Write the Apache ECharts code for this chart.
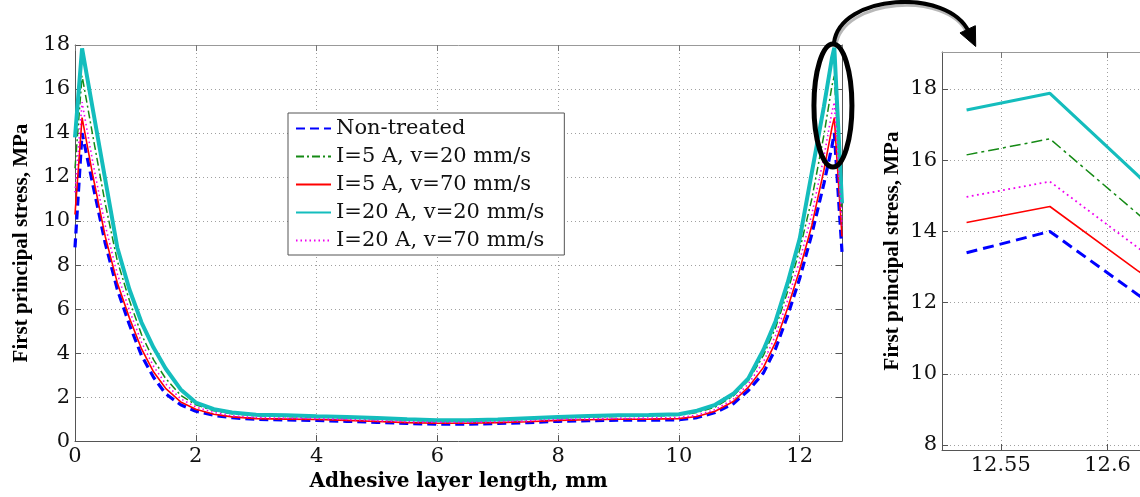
<!DOCTYPE html>
<html><head><meta charset="utf-8">
<script src="https://cdn.jsdelivr.net/npm/echarts@6/dist/echarts.min.js"></script>
<style>html,body{margin:0;padding:0;background:#fff}#c{width:1140px;height:497px}</style>
</head><body><div id="c"></div>
<script>
// ---------- data ----------
const seriesNames = ['Non-treated', 'I=5 A, v=20 mm/s', 'I=5 A, v=70 mm/s', 'I=20 A, v=20 mm/s', 'I=20 A, v=70 mm/s'];
const xLength = [0, 0.117, 0.3, 0.5, 0.7, 0.9, 1.1, 1.3, 1.5, 1.75, 2.0, 2.3, 2.6, 3.0, 3.5, 4.0, 4.5, 5.0, 5.5, 6.0, 6.5, 7.0, 7.5, 8.0, 8.5, 9.0, 9.5, 10.0, 10.3, 10.6, 10.9, 11.15, 11.4, 11.6, 11.8, 12.0, 12.2, 12.4, 12.534, 12.573, 12.614, 12.7];
const nonTreated = [8.8, 14.0, 11.6, 9.0, 6.9, 5.3, 3.9, 2.9, 2.15, 1.65, 1.36, 1.17, 1.06, 0.99, 0.96, 0.94, 0.9, 0.85, 0.8, 0.77, 0.77, 0.8, 0.84, 0.9, 0.93, 0.95, 0.95, 0.97, 1.07, 1.3, 1.7, 2.3, 3.1, 4.2, 5.7, 7.4, 9.4, 11.7, 13.4, 14.0, 12.23, 8.6];
const i5v20 = [12.4, 16.6, 13.8, 10.8, 8.2, 6.4, 4.85, 3.7, 2.85, 2.08, 1.65, 1.38, 1.24, 1.15, 1.11, 1.09, 1.05, 1.0, 0.95, 0.91, 0.91, 0.94, 0.99, 1.05, 1.09, 1.12, 1.14, 1.17, 1.3, 1.55, 2.05, 2.75, 3.9, 5.15, 6.8, 8.7, 11.0, 13.9, 16.15, 16.6, 14.5, 10.2];
const i5v70 = [10.3, 14.7, 12.0, 9.3, 7.2, 5.6, 4.2, 3.15, 2.4, 1.78, 1.45, 1.22, 1.1, 1.02, 1.0, 0.98, 0.94, 0.89, 0.84, 0.81, 0.81, 0.84, 0.88, 0.94, 0.97, 0.99, 1.0, 1.02, 1.12, 1.36, 1.8, 2.45, 3.35, 4.5, 6.05, 7.8, 9.8, 12.3, 14.25, 14.7, 12.9, 9.3];
const i20v20 = [13.8, 17.85, 15.0, 11.9, 8.8, 6.9, 5.4, 4.25, 3.3, 2.35, 1.75, 1.45, 1.3, 1.2, 1.17, 1.13, 1.1, 1.05, 0.99, 0.95, 0.95, 0.98, 1.04, 1.1, 1.14, 1.17, 1.19, 1.22, 1.38, 1.65, 2.15, 2.85, 4.15, 5.45, 7.2, 9.2, 12.2, 15.2, 17.41, 17.88, 15.58, 10.8];
const i20v70 = [11.3, 15.4, 12.6, 9.8, 7.6, 5.95, 4.5, 3.4, 2.6, 1.92, 1.55, 1.3, 1.15, 1.07, 1.04, 1.02, 0.98, 0.93, 0.88, 0.85, 0.85, 0.88, 0.92, 0.98, 1.01, 1.03, 1.05, 1.07, 1.18, 1.43, 1.9, 2.6, 3.6, 4.8, 6.4, 8.2, 10.3, 12.9, 14.97, 15.4, 13.55, 9.8];
const insetXTicks = [12.55, 12.6];
const insetYTicks = [8, 10, 12, 14, 16, 18];
const insetFrom = 12.53;

// ---------- styles ----------
const allValues = [nonTreated, i5v20, i5v70, i20v20, i20v70];
const styles = [
  {color: '#0000ff', width: 3.2, type: [9, 5]},
  {color: '#158a15', width: 1.5, type: [8, 3, 2, 3]},
  {color: '#ff0000', width: 1.6, type: 'solid'},
  {color: '#14bdbd', width: 4, type: 'solid'},
  {color: '#f000f0', width: 1.6, type: [1.5, 3]}
];
const insetStyles = [
  {color: '#0000ff', width: 3, type: [11, 6]},
  {color: '#158a15', width: 1.5, type: [11, 4, 3, 4]},
  {color: '#ff0000', width: 1.6, type: 'solid'},
  {color: '#14bdbd', width: 3.2, type: 'solid'},
  {color: '#f000f0', width: 1.8, type: [1.8, 3.5]}
];
const serif = 'DejaVu Serif';
const titleFont = 'Liberation Serif';
const gridLine = {show: true, lineStyle: {color: '#a0a0a0', type: [1, 3], width: 1}};

const series = [];
allValues.forEach((vals, i) => {
  const pts = xLength.map((x, k) => [x, vals[k]]);
  series.push({
    name: seriesNames[i], type: 'line', xAxisIndex: 0, yAxisIndex: 0,
    data: pts, symbol: 'none', smooth: false, animation: false,
    color: styles[i].color,
    lineStyle: {color: styles[i].color, width: styles[i].width, type: styles[i].type}
  });
});
allValues.forEach((vals, i) => {
  const pts = xLength.map((x, k) => [x, vals[k]]).filter(p => p[0] >= insetFrom);
  series.push({
    name: seriesNames[i], type: 'line', xAxisIndex: 2, yAxisIndex: 2,
    data: pts, symbol: 'none', animation: false, clip: true,
    color: insetStyles[i].color,
    lineStyle: {color: insetStyles[i].color, width: insetStyles[i].width, type: insetStyles[i].type}
  });
});

const insetXMin = 12.5225, insetXMax = 12.5225 + 202 / 2180;

const option = {
  animation: false,
  backgroundColor: '#fff',
  textStyle: {fontFamily: serif},
  grid: [
    {left: 75, right: 298, top: 45, bottom: 49},
    {left: 942, right: -4, top: 52, bottom: 47}
  ],
  legend: {
    data: seriesNames, orient: 'vertical', left: 288, top: 113,
    backgroundColor: '#fff', borderColor: '#555', borderWidth: 1,
    padding: [5, 20, 4, 7], itemWidth: 35, itemHeight: 14, itemGap: 7,
    itemStyle: {opacity: 0},
    textStyle: {fontFamily: serif, fontSize: 21, color: '#111', lineHeight: 20}
  },
  xAxis: [
    {type: 'value', gridIndex: 0, min: 0, max: 12.7, interval: 2, position: 'bottom',
     name: 'Adhesive layer length, mm', nameLocation: 'middle', nameGap: 26,
     nameTextStyle: {fontFamily: serif, fontWeight: 'bold', fontSize: 20, color: '#000'},
     axisLine: {onZero: false, lineStyle: {color: '#555', width: 1}},
     axisTick: {inside: true, length: 6, lineStyle: {color: '#555'}},
     axisLabel: {fontSize: 21, color: '#111', margin: 5, showMaxLabel: false, fontFamily: serif},
     splitLine: gridLine},
    {type: 'value', gridIndex: 0, min: 0, max: 12.7, interval: 2, position: 'top',
     axisLine: {onZero: false, lineStyle: {color: '#999', width: 1}},
     axisTick: {inside: true, length: 6, lineStyle: {color: '#777'}},
     axisLabel: {show: false}, splitLine: {show: false}},
    {type: 'value', gridIndex: 1, min: insetXMin, max: insetXMax, position: 'bottom',
     axisLine: {onZero: false, lineStyle: {color: '#555', width: 1}},
     axisTick: {inside: true, length: 6, customValues: insetXTicks, lineStyle: {color: '#555'}},
     axisLabel: {fontSize: 21, color: '#111', margin: 5, customValues: insetXTicks, fontFamily: serif,
                 formatter: v => String(v)},
     splitLine: gridLine},
    {type: 'value', gridIndex: 1, min: insetXMin, max: insetXMax, position: 'top',
     axisLine: {onZero: false, lineStyle: {color: '#999', width: 1}},
     axisTick: {inside: true, length: 6, customValues: insetXTicks, lineStyle: {color: '#777'}},
     axisLabel: {show: false}, splitLine: {show: false}}
  ],
  yAxis: [
    {type: 'value', gridIndex: 0, min: 0, max: 18, interval: 2, position: 'left',
     name: 'First principal stress, MPa', nameLocation: 'middle', nameGap: 42,
     nameTextStyle: {fontFamily: titleFont, fontWeight: 'bold', fontSize: 21, color: '#000'},
     axisLine: {show: true, onZero: false, lineStyle: {color: '#555', width: 1}},
     axisTick: {show: true, inside: true, length: 6, lineStyle: {color: '#555'}},
     axisLabel: {fontSize: 21, color: '#111', margin: 5, fontFamily: serif},
     splitLine: gridLine},
    {type: 'value', gridIndex: 0, min: 0, max: 18, interval: 2, position: 'right',
     axisLine: {show: true, onZero: false, lineStyle: {color: '#555', width: 1}},
     axisTick: {show: true, inside: true, length: 6, lineStyle: {color: '#555'}},
     axisLabel: {show: false}, splitLine: {show: false}},
    {type: 'value', gridIndex: 1, min: 7.86, max: 19.04, position: 'left',
     name: 'First principal stress, MPa', nameLocation: 'middle', nameGap: 39,
     nameTextStyle: {fontFamily: titleFont, fontWeight: 'bold', fontSize: 21, color: '#000'},
     axisLine: {show: true, onZero: false, lineStyle: {color: '#555', width: 1}},
     axisTick: {show: true, inside: true, length: 6, customValues: insetYTicks, lineStyle: {color: '#555'}},
     axisLabel: {fontSize: 21, color: '#111', margin: 5, customValues: insetYTicks, fontFamily: serif},
     splitLine: gridLine}
  ],
  series: series
};

const chart = echarts.init(document.getElementById('c'), null, {renderer: 'canvas'});
chart.setOption(option);

// ---------- annotation: ellipse around the right peak and curved arrow to the inset ----------
const c = chart.convertToPixel({xAxisIndex: 0, yAxisIndex: 0}, [12.55, 15.25]);
const rx = 19, ry = 61.5;
const p0 = [c[0] + 1, c[1] - ry - 1];
const p1 = [c[0] + 7, c[1] - ry - 50];
const p2 = [c[0] + 115, c[1] - ry - 57];
const p3 = [c[0] + 136, c[1] - ry - 12];
const dx = p3[0] - p2[0], dy = p3[1] - p2[1], dl = Math.hypot(dx, dy);
const ux = dx / dl, uy = dy / dl;
const tip = [p3[0] + 16 * ux, p3[1] + 16 * uy];
const base = [p3[0] - 3 * ux, p3[1] - 3 * uy];
const hw = 8.5;
chart.setOption({
  graphic: [
    {type: 'bezierCurve', z: 100, silent: true,
     shape: {x1: p0[0] + 2, y1: p0[1] + 3, cpx1: p1[0] + 2, cpy1: p1[1] + 4, cpx2: p2[0], cpy2: p2[1] + 4, x2: p3[0] - 2, y2: p3[1] + 1},
     style: {stroke: '#b8b8b8', lineWidth: 3, fill: null}},
    {type: 'bezierCurve', z: 101, silent: true,
     shape: {x1: p0[0], y1: p0[1], cpx1: p1[0], cpy1: p1[1], cpx2: p2[0], cpy2: p2[1], x2: p3[0], y2: p3[1]},
     style: {stroke: '#000', lineWidth: 4, fill: null}},
    {type: 'polygon', z: 102, silent: true,
     shape: {points: [tip, [base[0] - hw * uy, base[1] + hw * ux], [base[0] + hw * uy, base[1] - hw * ux]]},
     style: {fill: '#000', stroke: '#000', lineWidth: 1}},
    {type: 'ellipse', z: 103, silent: true,
     shape: {cx: c[0], cy: c[1], rx: rx, ry: ry},
     style: {stroke: '#000', lineWidth: 5, fill: null}}
  ]
});
</script></body></html>
